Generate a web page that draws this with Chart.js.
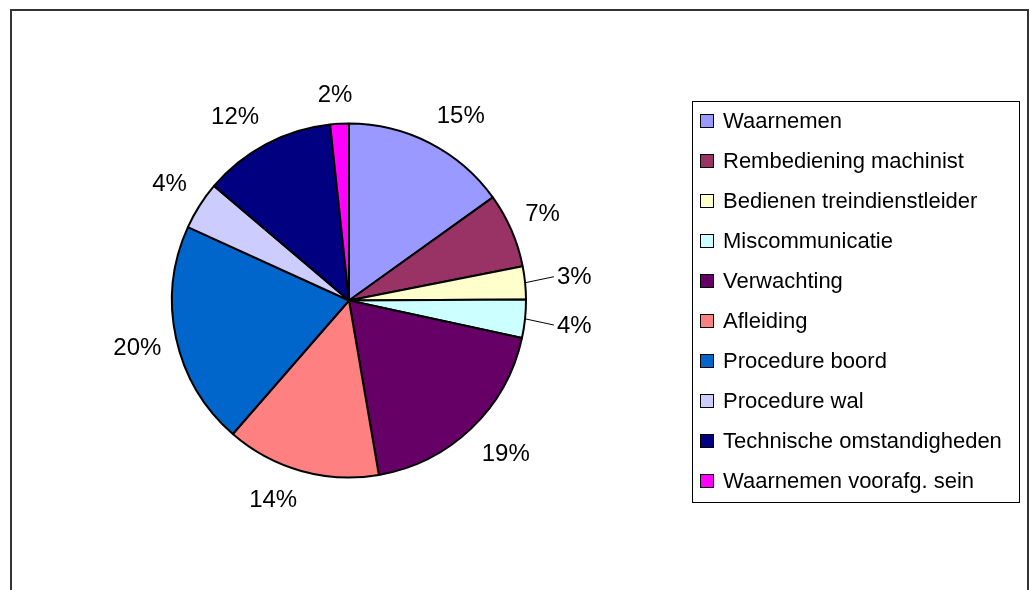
<!DOCTYPE html>
<html>
<head>
<meta charset="utf-8">
<script src="https://cdn.jsdelivr.net/npm/chart.js@4"></script>
<style>
  body { margin: 0; background: #fff; }
  canvas { display: block; }
</style>
</head>
<body>
<canvas id="pie" width="1030" height="590"></canvas>
<script>
// oorzaken (categories) and their share in percent
const categories = [
  'Waarnemen',
  'Rembediening machinist',
  'Bedienen treindienstleider',
  'Miscommunicatie',
  'Verwachting',
  'Afleiding',
  'Procedure boord',
  'Procedure wal',
  'Technische omstandigheden',
  'Waarnemen voorafg. sein'
]
const values = [15.1, 6.8, 3.0, 3.5, 18.9, 14.1, 20.4, 4.4, 12.1, 1.7]
const colors = ['#9999FF', '#993366', '#FFFFCC', '#CCFFFF', '#660066',
                '#FF8080', '#0066CC', '#CCCCFF', '#000080', '#FF00FF']
// slices whose label sits out with a little leader line
const leaderIdx = [2, 3]

const FONT = '"Liberation Sans", Arial, sans-serif'

// outer frame (bottom edge falls off the picture)
const frame = {
  id: 'frame',
  beforeDraw(chart) {
    const ctx = chart.ctx
    ctx.save()
    ctx.fillStyle = '#fff'
    ctx.fillRect(0, 0, chart.width, chart.height)
    ctx.strokeStyle = '#333'
    ctx.lineWidth = 2
    ctx.strokeRect(11, 10, 1017, 620)
    ctx.restore()
  }
}

const clamp1 = v => Math.max(-1, Math.min(1, v))

// percentage labels outside the pie, box corner pushed against the rim
const pctLabels = {
  id: 'pctLabels',
  afterDatasetsDraw(chart) {
    const ctx = chart.ctx
    const meta = chart.getDatasetMeta(0)
    const total = values.reduce((a, b) => a + b, 0)
    ctx.save()
    ctx.font = '24px ' + FONT
    ctx.fillStyle = '#000'
    ctx.strokeStyle = '#000'
    ctx.lineWidth = 1
    ctx.textAlign = 'center'
    ctx.textBaseline = 'middle'
    meta.data.forEach((arc, i) => {
      const p = arc.getProps(['x', 'y', 'startAngle', 'endAngle', 'outerRadius'], true)
      const mid = (p.startAngle + p.endAngle) / 2
      const c = Math.cos(mid), s = Math.sin(mid)
      const txt = Math.round(values[i] / total * 100) + '%'
      const w = ctx.measureText(txt).width, h = 28
      const lead = leaderIdx.includes(i)
      const gap = lead ? 32 : 15
      const ax = p.x + c * (p.outerRadius + gap)
      const ay = p.y + s * (p.outerRadius + gap)
      const tx = ax + clamp1(c * 4) * w / 2
      const ty = ay + clamp1(s * 2) * h / 2
      if (lead) {
        ctx.beginPath()
        ctx.moveTo(p.x + c * p.outerRadius, p.y + s * p.outerRadius)
        ctx.lineTo(tx - w / 2 - 3, ty)
        ctx.stroke()
      }
      ctx.fillText(txt, tx, ty + 1)
    })
    ctx.restore()
  }
}

// boxed legend on the right
const boxLegend = {
  id: 'boxLegend',
  afterDraw(chart) {
    const ctx = chart.ctx
    ctx.save()
    ctx.strokeStyle = '#000'
    ctx.lineWidth = 1
    ctx.strokeRect(692.5, 101.5, 327, 401)
    ctx.font = '22px ' + FONT
    ctx.textBaseline = 'alphabetic'
    ctx.textAlign = 'left'
    categories.forEach((lab, i) => {
      const y = 120 + i * 40
      ctx.fillStyle = colors[i]
      ctx.fillRect(701, y - 5, 12, 12)
      ctx.strokeRect(700.5, y - 5.5, 13, 13)
      ctx.fillStyle = '#000'
      ctx.fillText(lab, 723, y + 8)
    })
    ctx.restore()
  }
}

new Chart(document.getElementById('pie'), {
  type: 'pie',
  data: {
    labels: categories,
    datasets: [{
      data: values,
      backgroundColor: colors,
      borderColor: '#000',
      borderWidth: 2
    }]
  },
  options: {
    responsive: false,
    animation: false,
    radius: 177,
    layout: { padding: { left: 0, right: 332, top: 11, bottom: 0 } },
    plugins: {
      legend: { display: false },
      tooltip: { enabled: false }
    }
  },
  plugins: [frame, pctLabels, boxLegend]
})
</script>
</body>
</html>
